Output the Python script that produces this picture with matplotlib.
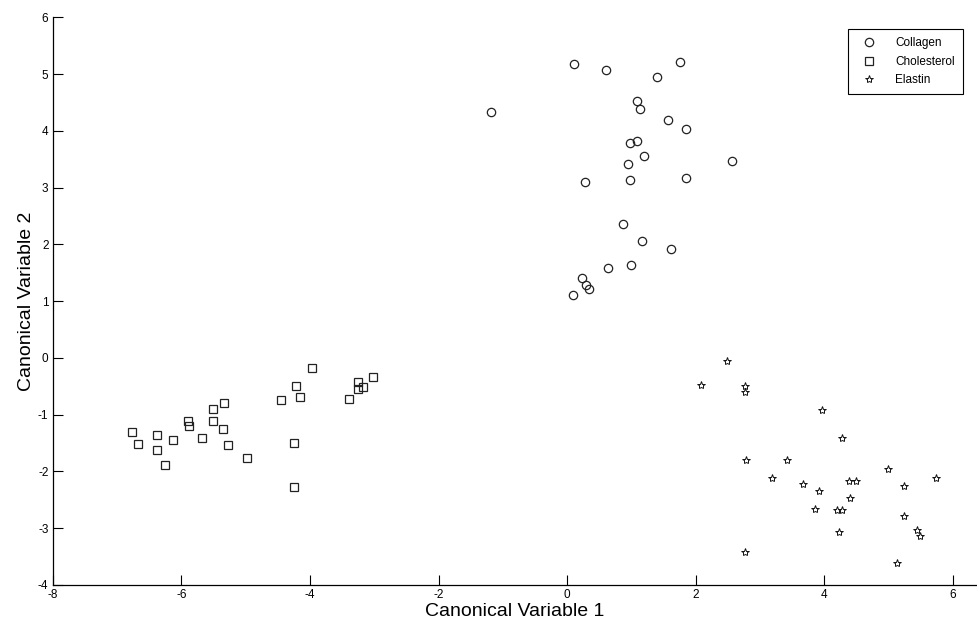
import matplotlib
matplotlib.use("Agg")
import matplotlib.pyplot as plt

# Canonical variable scores per group
collagen_x = [0.11, 0.61, 1.75, 1.39, 1.09, 1.13, -1.19, 1.57, 1.85, 1.09, 0.98, 1.19, 2.56,
              0.95, 0.28, 0.97, 1.85, 0.86, 1.17, 1.61, 0.63, 0.99, 0.23, 0.30, 0.34, 0.09]
collagen_y = [5.18, 5.07, 5.21, 4.94, 4.53, 4.38, 4.33, 4.19, 4.04, 3.82, 3.78, 3.56, 3.46,
              3.41, 3.10, 3.13, 3.16, 2.35, 2.06, 1.91, 1.59, 1.64, 1.40, 1.28, 1.21, 1.10]

cholesterol_x = [-6.76, -6.67, -6.37, -6.37, -6.25, -6.13, -5.90, -5.88, -5.68, -5.50, -5.51,
                 -5.33, -5.35, -5.27, -4.98, -3.97, -4.21, -4.45, -4.16, -4.25, -4.24, -3.40,
                 -3.26, -3.26, -3.18, -3.02]
cholesterol_y = [-1.31, -1.52, -1.35, -1.62, -1.89, -1.45, -1.11, -1.20, -1.41, -0.90, -1.11,
                 -0.79, -1.25, -1.53, -1.76, -0.17, -0.49, -0.74, -0.69, -1.50, -2.27, -0.72,
                 -0.43, -0.55, -0.51, -0.33]

elastin_x = [2.48, 2.08, 2.76, 2.77, 3.96, 2.78, 3.42, 3.18, 3.66, 3.91, 3.86, 4.27, 4.98,
             5.73, 4.38, 4.49, 5.24, 4.40, 4.19, 4.28, 5.23, 4.23, 5.44, 5.48, 5.12, 2.76]
elastin_y = [-0.05, -0.47, -0.49, -0.60, -0.92, -1.80, -1.80, -2.12, -2.23, -2.34, -2.67,
             -1.42, -1.95, -2.11, -2.16, -2.16, -2.26, -2.47, -2.68, -2.68, -2.78, -3.06,
             -3.03, -3.13, -3.62, -3.42]

plt.rcParams["font.family"] = ["Liberation Sans", "DejaVu Sans"]
plt.rcParams["axes.unicode_minus"] = False

fig = plt.figure(figsize=(9.77, 6.29), dpi=100)
ax = fig.add_axes([0.0539, 0.070, 0.946, 0.9026])

ax.plot(collagen_x, collagen_y, "o", ls="none", mfc="none", mec="#222222",
        mew=0.9, ms=6.0, label="Collagen")
ax.plot(cholesterol_x, cholesterol_y, "s", ls="none", mfc="none", mec="#222222",
        mew=0.9, ms=6.0, label="Cholesterol")
ax.plot(elastin_x, elastin_y, "*", ls="none", mfc="none", mec="#111111",
        mew=0.7, ms=6.0, label="Elastin")

ax.set_xlim(-8, 6.37)
ax.set_ylim(-4, 6)
ax.set_xticks([-8, -6, -4, -2, 0, 2, 4, 6])
ax.set_yticks(range(-4, 7))
ax.tick_params(direction="in", length=7, width=0.8, labelsize=8.5, pad=3)
for side in ("top", "right"):
    ax.spines[side].set_visible(False)
for side in ("left", "bottom"):
    ax.spines[side].set_linewidth(0.9)

ax.set_xlabel("Canonical Variable 1", fontsize=14, labelpad=1)
ax.set_ylabel("Canonical Variable 2", fontsize=14, labelpad=2)

leg = ax.legend(loc="upper right", bbox_to_anchor=(0.9849, 0.9794), fontsize=8.5,
                fancybox=False, edgecolor="black", framealpha=1, borderpad=0.7,
                handlelength=2.2, handletextpad=1.1, labelspacing=0.55,
                borderaxespad=0)
leg.get_frame().set_linewidth(0.8)

fig.savefig("out.png", dpi=100)
